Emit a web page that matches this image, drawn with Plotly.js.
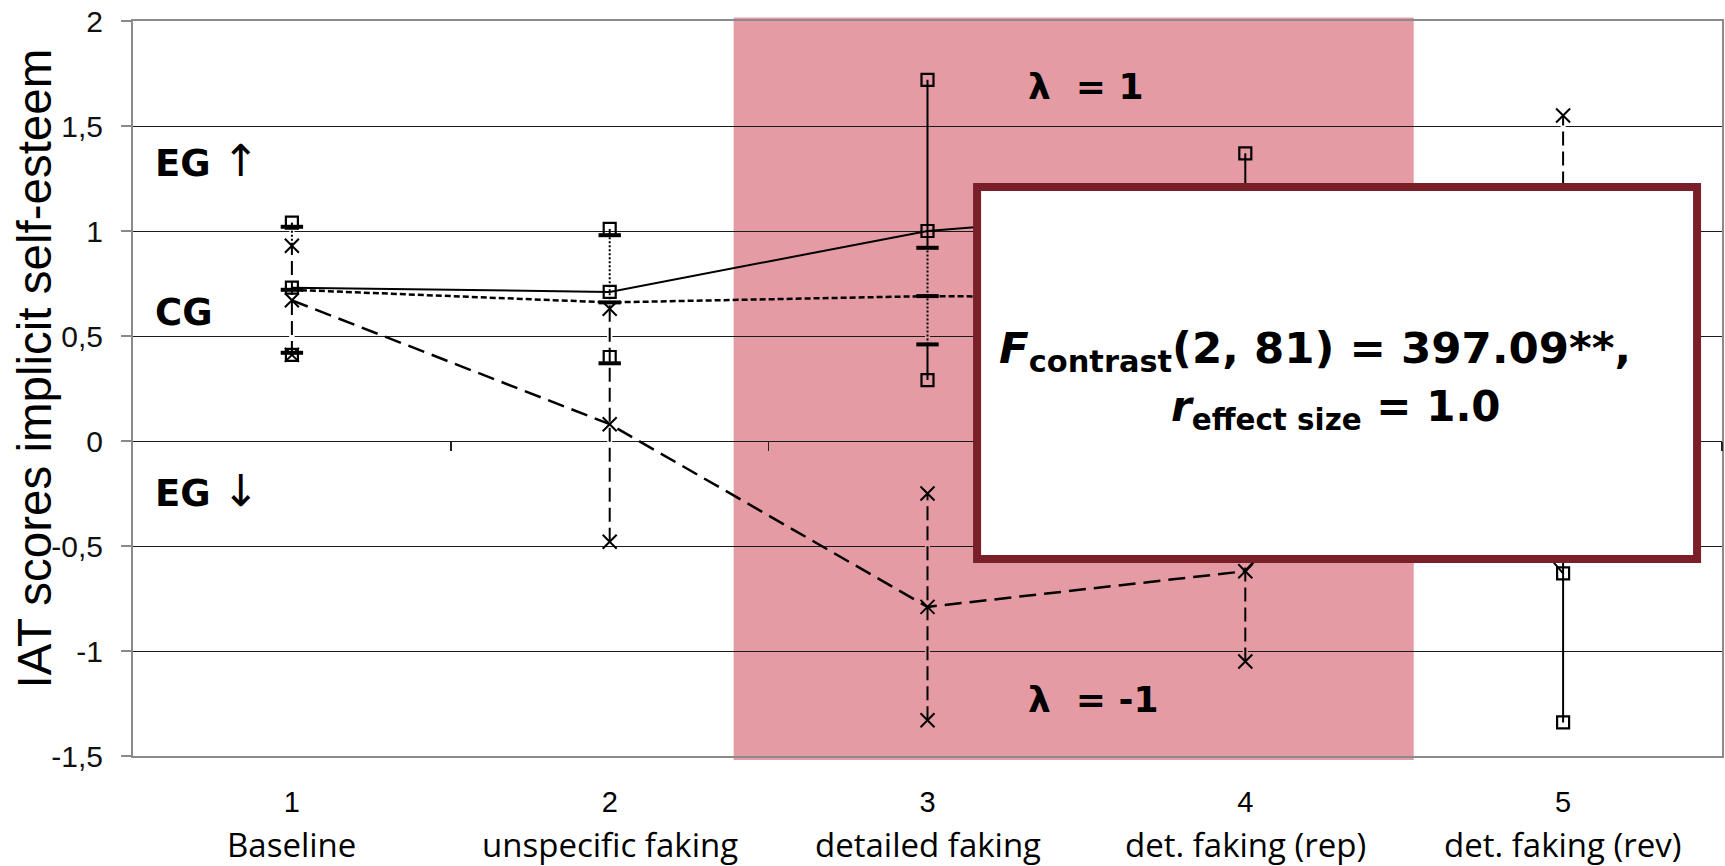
<!DOCTYPE html>
<html>
<head>
<meta charset="utf-8">
<script src="https://cdn.plot.ly/plotly-3.0.1.min.js"></script>
<style>
  html, body { margin: 0; padding: 0; background: #ffffff; }
  #chart { width: 1725px; height: 866px; }
</style>
</head>
<body>
<div id="chart"></div>
<script>
// Measurement occasions and their names
const phases = [1, 2, 3, 4, 5];
const phaseLabels = ["Baseline", "unspecific faking", "detailed faking", "det. faking (rep)", "det. faking (rev)"];

// Y axis ticks (decimal comma)
const yTickVals = [-1.5, -1, -0.5, 0, 0.5, 1, 1.5, 2];
const yTickText = ["-1,5", "-1", "-0,5", "0", "0,5", "1", "1,5", "2"];

// Experimental group, faking high (EG ↑): mean and interval ends
const egUpMean = [0.73, 0.71, 1.00, 1.12, -0.63];
const egUpHigh = [1.04, 1.01, 1.72, 1.37, 0.08];
const egUpLow  = [0.41, 0.40, 0.29, 0.87, -1.34];

// Control group (CG)
const cgMean = [0.72, 0.66, 0.69, 0.68, 0.69];
const cgHigh = [1.02, 0.98, 0.92, 0.91, 0.92];
const cgLow  = [0.42, 0.37, 0.46, 0.45, 0.46];

// Experimental group, faking low (EG ↓)
const egDownMean = [0.67, 0.08, -0.79, -0.62, 1.05];
const egDownHigh = [0.93, 0.63, -0.25, -0.19, 1.55];
const egDownLow  = [0.41, -0.48, -1.33, -1.05, 0.55];

// Occasions covered by the contrast weights (shaded band)
const contrastSpan = [2.39, 4.53];

const X_RANGE = [0.5, 5.5];
const Y_RANGE = [-1.5, 2];
const PINK = '#e59ba4';
const BOX_RED = '#7a1e2a';
const INK = '#000000';

const toPaperX = v => (v - X_RANGE[0]) / (X_RANGE[1] - X_RANGE[0]);
const inBand = p => p >= contrastSpan[0] && p <= contrastSpan[1];

// vertical interval segments, separated by gaps
function segments(lo, hi, keep) {
  const xs = [], ys = [];
  phases.forEach((p, i) => {
    if (keep && !keep(p)) return;
    xs.push(p, p, null);
    ys.push(lo[i], hi[i], null);
  });
  return { xs, ys };
}

function barTrace(lo, hi, dash, width) {
  const s = segments(lo, hi);
  return { type: 'scatter', mode: 'lines', x: s.xs, y: s.ys, connectgaps: false,
           line: { color: INK, width: width, dash: dash }, hoverinfo: 'skip', showlegend: false };
}

// background-coloured strip under a dashed interval so that the dash gaps stay open
function underlay(lo, hi) {
  const inside = segments(lo, hi, inBand);
  const outside = segments(lo, hi, p => !inBand(p));
  return [
    { type: 'scatter', mode: 'lines', x: outside.xs, y: outside.ys, connectgaps: false,
      line: { color: '#ffffff', width: 5 }, hoverinfo: 'skip', showlegend: false },
    { type: 'scatter', mode: 'lines', x: inside.xs, y: inside.ys, connectgaps: false,
      line: { color: PINK, width: 5 }, hoverinfo: 'skip', showlegend: false }
  ];
}

function meanLine(mean, dash, width, name) {
  return { type: 'scatter', mode: 'lines', name: name, x: phases, y: mean,
           line: { color: INK, width: width, dash: dash }, showlegend: false };
}

function markerTrace(mean, hi, lo, symbol, size, lw, name) {
  return { type: 'scatter', mode: 'markers', name: name,
           x: phases.concat(phases, phases), y: mean.concat(hi, lo),
           marker: { symbol: symbol, size: size, color: INK,
                     line: { color: INK, width: lw } },
           hoverinfo: 'skip', showlegend: false };
}

const traces = [
  barTrace(egUpLow, egUpHigh, 'solid', 2),
  ...underlay(cgLow, cgHigh),
  barTrace(cgLow, cgHigh, '2px,2px', 2),
  ...underlay(egDownLow, egDownHigh),
  barTrace(egDownLow, egDownHigh, '14px,6px', 2),
  meanLine(egUpMean, 'solid', 2, 'EG ↑'),
  meanLine(cgMean, '6px,3px', 2.5, 'CG'),
  meanLine(egDownMean, '17px,8px', 2.5, 'EG ↓'),
  markerTrace(egUpMean, egUpHigh, egUpLow, 'square-open', 12, 2.2, 'EG ↑'),
  markerTrace(cgMean, cgHigh, cgLow, 'line-ew', 16, 4, 'CG'),
  markerTrace(egDownMean, egDownHigh, egDownLow, 'x-thin-open', 14, 2, 'EG ↓'),
  // carrier for the category axis that crosses at zero
  { type: 'scatter', mode: 'markers', x: [], y: [], xaxis: 'x2', yaxis: 'y', showlegend: false, hoverinfo: 'skip' }
];

const boldFont = (size) => ({ family: 'DejaVu Sans, Verdana, sans-serif', size: size, color: INK });
const arrow = ch => '<span style="font-size:44px">' + ch + '</span>';

const annotations = [
  { xref: 'x', yref: 'y', x: 0.563, y: 1.338, xanchor: 'left', yanchor: 'middle', showarrow: false,
    text: '<b>EG</b> ' + arrow('↑'), font: boldFont(37) },
  { xref: 'x', yref: 'y', x: 0.563, y: 0.614, xanchor: 'left', yanchor: 'middle', showarrow: false,
    text: '<b>CG</b>', font: boldFont(37) },
  { xref: 'x', yref: 'y', x: 0.563, y: -0.238, xanchor: 'left', yanchor: 'middle', showarrow: false,
    text: '<b>EG</b> ' + arrow('↓'), font: boldFont(37) },
  { xref: 'x', yref: 'y', x: 3.31, y: 1.69, xanchor: 'left', yanchor: 'middle', showarrow: false,
    text: '<b>λ\u00a0 = 1</b>', font: boldFont(36) },
  { xref: 'x', yref: 'y', x: 3.31, y: -1.233, xanchor: 'left', yanchor: 'middle', showarrow: false,
    text: '<b>λ\u00a0 = -1</b>', font: boldFont(36) },
  { xref: 'x', yref: 'y', x: 4.219, y: 0.43, xanchor: 'center', yanchor: 'middle', showarrow: false,
    text: '<b><i>F</i><sub>contrast</sub>(2, 81) = 397.09**,</b>', font: boldFont(43.5) },
  { xref: 'x', yref: 'y', x: 4.285, y: 0.148, xanchor: 'center', yanchor: 'middle', showarrow: false,
    text: '<b><i>r</i><sub>effect size</sub> = 1.0</b>', font: boldFont(42) },
  { xref: 'paper', yref: 'paper', x: -0.062, y: 0.528, xanchor: 'center', yanchor: 'middle',
    showarrow: false, textangle: -90, text: 'IAT scores implicit self-esteem',
    font: { family: 'Liberation Sans, Arial, sans-serif', size: 47.5, color: INK } }
];

phases.forEach((p, i) => {
  annotations.push({ xref: 'x', yref: 'paper', x: p, y: -0.121, xanchor: 'center', yanchor: 'middle',
    showarrow: false, text: phaseLabels[i],
    font: { family: 'Open Sans, sans-serif', size: 33, color: INK } });
});

const layout = {
  width: 1725, height: 866,
  margin: { l: 133, r: 3, t: 21, b: 110 },
  paper_bgcolor: '#ffffff',
  plot_bgcolor: '#ffffff',
  showlegend: false,
  xaxis: {
    range: X_RANGE, tickmode: 'array', tickvals: phases, ticktext: phases.map(String),
    ticks: '', ticklabelstandoff: 19,
    tickfont: { family: 'Liberation Sans, Arial, sans-serif', size: 29, color: INK },
    showgrid: false, zeroline: false,
    showline: true, linecolor: '#8a8a8a', linewidth: 2, mirror: true
  },
  xaxis2: {
    range: X_RANGE, overlaying: 'x', anchor: 'free', position: (0 - Y_RANGE[0]) / (Y_RANGE[1] - Y_RANGE[0]),
    side: 'bottom', tickmode: 'array', tickvals: [1.5, 2.5, 3.5, 4.5, 5.5],
    ticks: 'outside', ticklen: 9, tickwidth: 1.5, tickcolor: '#222222',
    showticklabels: false, showgrid: false, zeroline: false, showline: false
  },
  yaxis: {
    range: Y_RANGE, tickmode: 'array', tickvals: yTickVals, ticktext: yTickText,
    ticks: 'outside', ticklen: 10, tickwidth: 2, tickcolor: '#8a8a8a', ticklabelstandoff: 12,
    tickfont: { family: 'Liberation Sans, Arial, sans-serif', size: 30, color: '#111111' },
    showgrid: true, gridcolor: '#1a1a1a', gridwidth: 1, zeroline: false,
    showline: true, linecolor: '#8a8a8a', linewidth: 2, mirror: true
  },
  shapes: [
    { type: 'rect', layer: 'below', xref: 'paper', yref: 'paper',
      x0: toPaperX(contrastSpan[0]), x1: toPaperX(contrastSpan[1]), y0: -0.0055, y1: 1.0047,
      fillcolor: PINK, line: { width: 0 } },
    { type: 'rect', layer: 'above', xref: 'paper', yref: 'paper',
      x0: 0.5312, x1: 0.9843, y0: 0.268, y1: 0.774,
      fillcolor: '#ffffff', line: { color: BOX_RED, width: 8 } }
  ],
  annotations: annotations
};

Plotly.newPlot('chart', traces, layout, { displayModeBar: false, staticPlot: true });
</script>
</body>
</html>
